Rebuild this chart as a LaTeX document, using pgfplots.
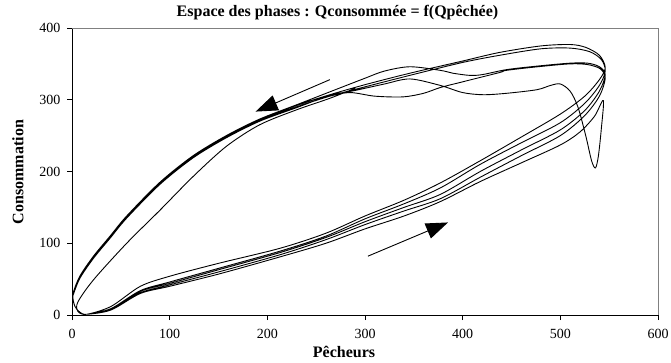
\documentclass[border=0pt]{standalone}
\usepackage{pgfplots}
\pgfplotsset{compat=1.18}
\usepackage{fontspec}
\setmainfont{Liberation Serif}
\usetikzlibrary{arrows.meta}
\begin{document}
\begin{tikzpicture}
\path[use as bounding box] (-72bp,-48bp) rectangle (599bp,315bp);
\begin{axis}[
  at={(0,0)}, anchor=south west,
  scale only axis, width=586bp, height=287bp,
  xmin=0, xmax=600, ymin=0, ymax=400,
  xtick={0,100,...,600}, ytick={0,100,...,400},
  axis lines*=left,
  axis line style={black, line width=0.8bp},
  tick align=outside, major tick length=5bp,
  tick style={black, line width=0.8bp},
  /pgf/number format/assume math mode=true,
  tick label style={font=\fontsize{14bp}{16bp}\selectfont},
  xticklabel style={yshift=-6bp},
  yticklabel style={xshift=-3bp},
  clip=false,
]
\draw[gray, line width=0.6bp] (rel axis cs:0,1) -- (rel axis cs:1,1) -- (rel axis cs:1,0);
\addplot[black, line width=0.9bp, smooth, tension=0.5] coordinates {
(290,316) (264,302) (230,286) (192,265) (158,235) (124,193) (90,146) (56,100) (22,49) (6,18) (6,5) (15,1)
(40,12) (70,40) (100,54) (150,72) (213,93) (260,114) (300,138) (340,160) (377,184) (418,215) (460,248) (500,280) (525,305) (540,328) (546,345) (540,362) (526,373) (510,377) (480,375) (438,366) (400,354) (346,337) (300,321) (264,307) (230,292) (192,272) (158,249) (124,221) (90,184) (56,137) (39,109) (22,81) (8,53) (1,28) (3,12) (8,4) (15,1)
(40,9) (70,34) (100,46) (150,65) (213,89) (260,110) (300,134) (340,155) (377,177) (418,210) (460,240) (500,268) (525,295) (540,320) (546,340) (542,356) (530,367) (510,372) (480,371) (438,362) (400,352) (346,334) (300,318) (264,305) (230,290) (192,271) (158,248) (124,220) (90,183) (56,136) (39,108) (22,80) (8,52) (1,28) (3,12) (8,4) (15,1)
(40,8) (70,33) (100,44) (150,63) (213,87) (260,108) (300,130) (340,150) (377,168) (418,200) (460,230) (500,258) (525,285) (540,312) (546,335) (540,346) (528,351) (510,351) (477,347) (445,342) (420,335) (407,334) (390,337) (377,341) (346,346) (320,340) (300,330) (264,311) (230,293) (192,273) (158,250) (124,222) (90,185) (56,138) (39,110) (22,82) (8,54) (1,29) (3,12) (8,4) (15,1)
(40,8) (70,31) (100,42) (150,60) (213,84) (260,105) (300,126) (340,145) (377,162) (418,192) (460,222) (500,250) (525,278) (540,305) (546,330) (541,343) (528,349) (510,350) (477,346) (445,341) (438,338) (400,325) (377,317) (360,309) (339,304) (310,305) (285,310) (264,305) (230,290) (192,270) (158,247) (124,219) (90,182) (56,135) (39,107) (22,79) (8,51) (1,27) (3,12) (8,4) (15,1)
(40,7) (70,30) (100,40) (150,57) (213,81) (260,100) (300,120) (340,138) (377,158) (418,186) (460,212) (500,237) (520,255) (535,277) (544,299) (542,260) (539,222) (536,205) (532,215) (526,250) (518,290) (510,312) (500,322) (490,320) (476,314) (445,309) (421,307) (400,310) (377,320) (346,329) (320,322) (290,313) (264,306) (230,289) (192,270) (158,247) (124,219) (90,182) (56,135) (39,107) (22,79) (8,51) (1,27)
};
\addplot[black, line width=0.9bp, -{Triangle[length=22bp,width=16bp]}] coordinates {(264,328) (188,283.5)};
\addplot[black, line width=0.9bp, -{Triangle[length=22bp,width=16bp]}] coordinates {(303,82) (385,129)};
\end{axis}
\node[font=\fontsize{16bp}{19bp}\selectfont\bfseries] at (265.5bp,302bp) {Espace des phases : Qconsommée = f(Qpêchée)};
\node[font=\fontsize{16bp}{19bp}\selectfont\bfseries] at (272bp,-37bp) {Pêcheurs};
\node[font=\fontsize{16bp}{19bp}\selectfont\bfseries, rotate=90] at (-54bp,143bp) {Consommation};
\end{tikzpicture}
\end{document}
